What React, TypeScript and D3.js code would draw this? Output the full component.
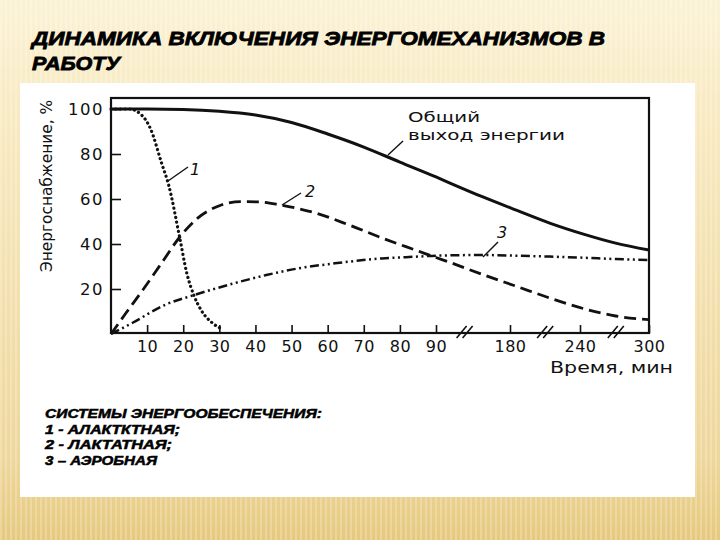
import * as d3 from "d3";
import { useRef, useEffect } from "react";

// время, мин / энергоснабжение, %
const totalT = [0, 10, 20, 30, 40, 50, 60, 70, 80, 90, 107, 147, 186, 214, 243, 271, 300];
const totalV = [100, 100, 99.8, 99, 97.3, 94, 88.9, 83.1, 76.4, 69.8, 67.1, 60.9, 54.9, 49.3, 44.4, 40.4, 37.3];

const alacticT = [0, 5, 8, 11, 14, 16, 19, 21, 23, 25, 28, 31];
const alacticV = [100, 100, 98, 91, 76, 66, 43, 27, 17, 10.5, 5, 2];

const lacticT = [0, 4, 9, 14, 19, 24, 30, 36, 41, 47, 57, 66, 75, 85, 90, 107, 147, 186, 214, 243, 271, 300];
const lacticV = [0, 9, 20, 31.5, 43, 51.5, 57, 58.8, 58.7, 57.3, 53.6, 48.4, 42.7, 36.9, 34, 31.8, 26.4, 21.1, 16, 11.3, 8, 6.4];

const aerobicT = [0, 6, 15, 23, 34, 43, 52, 62, 75, 85, 90, 147, 186, 214, 243, 271, 300];
const aerobicV = [0, 5, 13, 17.3, 22.5, 26.2, 29.2, 31.4, 33.6, 34.4, 34.8, 35.1, 34.8, 34.4, 33.9, 33.3, 32.9];

const timeTicks = [10, 20, 30, 40, 50, 60, 70, 80, 90, 180, 240, 300];
const timeBreaks = [126, 211, 272];
const valueTicks = [20, 40, 60, 80, 100];

const titleLines = ["ДИНАМИКА ВКЛЮЧЕНИЯ ЭНЕРГОМЕХАНИЗМОВ В", "РАБОТУ"];
const legendLines = [
  "СИСТЕМЫ ЭНЕРГООБЕСПЕЧЕНИЯ:",
  "1 - АЛАКТКТНАЯ;",
  "2 - ЛАКТАТНАЯ;",
  "3 – АЭРОБНАЯ",
];
const legendWidths = [277, 135, 127, 112];

const W = 720;
const H = 540;
const left = 111;
const right = 649;
const top = 98;
const bottom = 333;

export default function App() {
  const gx = useRef(null);
  const gy = useRef(null);

  // ось времени с разрывами: 0–90 линейно, дальше сжато
  const x = d3.scaleLinear().domain([0, 90, 180, 240, 300]).range([left, 436, 510, 580, right]);
  const y = d3.scaleLinear().domain([0, 100]).range([334, 109]);

  const line = (ts, vs) =>
    d3.line().x((d) => x(d[0])).y((d) => y(d[1])).curve(d3.curveMonotoneX)(ts.map((t, i) => [t, vs[i]]));

  useEffect(() => {
    const ax = d3.axisBottom(x).tickValues(timeTicks).tickSizeInner(-8).tickSizeOuter(0).tickPadding(8);
    const g = d3.select(gx.current).call(ax);
    g.select(".domain").remove();
    g.selectAll(".tick line").attr("stroke", "#111").attr("stroke-width", 1.6);
    g.selectAll(".tick text")
      .attr("fill", "#111")
      .style("font-family", "'DejaVu Sans', sans-serif")
      .style("font-size", "16px")
      .style("letter-spacing", "0.5px");
  }, []);

  useEffect(() => {
    const ay = d3.axisLeft(y).tickValues(valueTicks).tickSizeInner(-10).tickSizeOuter(0).tickPadding(7);
    const g = d3.select(gy.current).call(ay);
    g.select(".domain").remove();
    g.selectAll(".tick line").attr("stroke", "#111").attr("stroke-width", 1.6);
    g.selectAll(".tick text")
      .attr("fill", "#111")
      .style("font-family", "'DejaVu Sans', sans-serif")
      .style("font-size", "16.5px")
      .style("letter-spacing", "1.5px");
  }, []);

  const font = "'DejaVu Sans', sans-serif";
  const titleFont = "'Liberation Sans', Arial, sans-serif";

  return (
    <svg width={W} height={H} style={{ position: "absolute", left: 0, top: 0 }}>
      <defs>
        <linearGradient id="bg" x1="0" y1="0" x2="0" y2="1">
          <stop offset="0" stopColor="#fbf2d6" />
          <stop offset="0.2" stopColor="#f8eac2" />
          <stop offset="0.85" stopColor="#eed79c" />
          <stop offset="1" stopColor="#e6c97f" />
        </linearGradient>
        <pattern id="stripes" width="5" height="10" patternUnits="userSpaceOnUse">
          <rect width="2" height="10" fill="#ffffff" opacity="0.22" />
        </pattern>
      </defs>
      <rect width={W} height={H} fill="url(#bg)" />
      <rect width={W} height={H} fill="url(#stripes)" />

      {titleLines.map((t, i) => (
        <text
          key={t}
          x={32}
          y={45 + i * 25}
          fontFamily={titleFont}
          fontWeight="bold"
          fontStyle="italic"
          fontSize={19}
          fill="#000"
          stroke="#000"
          strokeWidth={0.8}
          textLength={i === 0 ? 573 : 88}
          lengthAdjust="spacingAndGlyphs"
        >
          {t}
        </text>
      ))}

      <rect x={20} y={83} width={675} height={414} fill="#fff" />

      {/* рамка графика */}
      <rect x={left} y={top} width={right - left} height={bottom - top} fill="none" stroke="#111" strokeWidth={2.2} />

      <g ref={gx} transform={`translate(0,${bottom})`} />
      <g ref={gy} transform={`translate(${left},0)`} />

      {timeBreaks.map((t) => (
        <g key={t} stroke="#111" strokeWidth={1.6}>
          <line x1={x(t) - 9} y1={bottom + 5} x2={x(t) + 1} y2={bottom - 7} />
          <line x1={x(t) - 3} y1={bottom + 5} x2={x(t) + 7} y2={bottom - 7} />
        </g>
      ))}

      <text
        transform={`translate(52,${186}) rotate(-90)`}
        textAnchor="middle"
        fontFamily={font}
        fontSize={16}
        fill="#111"
        textLength={172}
        lengthAdjust="spacingAndGlyphs"
      >
        Энергоснабжение, %
      </text>
      <text
        x={673}
        y={373}
        textAnchor="end"
        fontFamily={font}
        fontSize={16}
        fill="#111"
        textLength={123}
        lengthAdjust="spacingAndGlyphs"
      >
        Время, мин
      </text>

      <g fill="none" stroke="#111">
        <path d={line(totalT, totalV)} strokeWidth={3} />
        <path d={line(alacticT, alacticV)} strokeWidth={3.2} strokeDasharray="0.1 4.6" strokeLinecap="round" />
        <path d={line(lacticT, lacticV)} strokeWidth={2.8} strokeDasharray="12 6" />
        <path d={line(aerobicT, aerobicV)} strokeWidth={2.5} strokeDasharray="9 3.5 2 3.5 2 3.5" />
      </g>

      {/* подписи кривых */}
      <g stroke="#111" strokeWidth={1.4}>
        <line x1={388} y1={155} x2={403} y2={141} />
        <line x1={168} y1={181} x2={188} y2={167} />
        <line x1={282} y1={205} x2={301} y2={193} />
        <line x1={483} y1={257} x2={498} y2={242} />
      </g>
      <g fontFamily={font} fontSize={14.5} fill="#111">
        <text x={408} y={122} textLength={72} lengthAdjust="spacingAndGlyphs">
          Общий
        </text>
        <text x={408} y={140} textLength={157} lengthAdjust="spacingAndGlyphs">
          выход энергии
        </text>
      </g>
      <g fontFamily={font} fontSize={16} fontStyle="italic" fill="#111">
        <text x={190} y={175}>1</text>
        <text x={305} y={197}>2</text>
        <text x={497} y={238}>3</text>
      </g>

      {legendLines.map((t, i) => (
        <text
          key={t}
          x={45}
          y={418 + i * 15.5}
          fontFamily={titleFont}
          fontWeight="bold"
          fontStyle="italic"
          fontSize={12.5}
          fill="#000"
          stroke="#000"
          strokeWidth={0.5}
          textLength={legendWidths[i]}
          lengthAdjust="spacingAndGlyphs"
        >
          {t}
        </text>
      ))}
    </svg>
  );
}
